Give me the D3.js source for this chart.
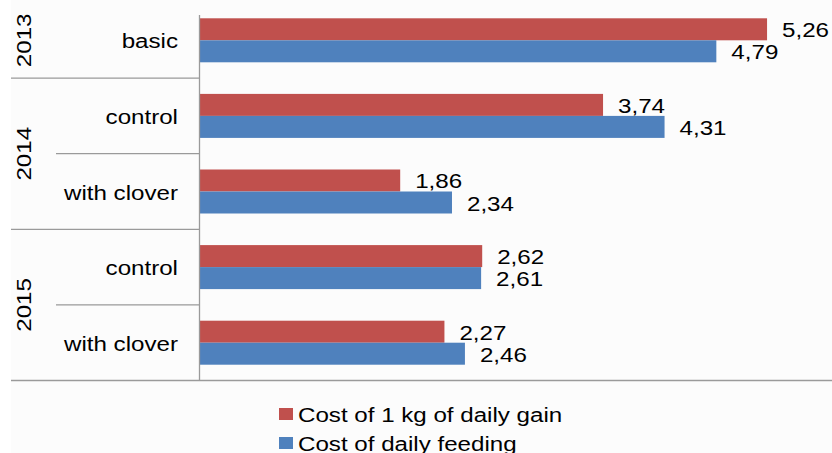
<!DOCTYPE html>
<html>
<head>
<meta charset="utf-8">
<script src="https://cdn.jsdelivr.net/npm/d3@7"></script>
<style>
  body { margin: 0; background: #fff; }
  svg { display: block; font-family: "Liberation Sans", Arial, sans-serif; }
</style>
</head>
<body>
<div id="chart"></div>
<script>
// Data
const categories = ['basic', 'control', 'with clover', 'control', 'with clover'];
const years = ['2013', '2014', '2014', '2015', '2015'];
const gainCost = [5.26, 3.74, 1.86, 2.62, 2.27];
const feedingCost = [4.79, 4.31, 2.34, 2.61, 2.46];
const seriesNames = ['Cost of 1 kg of daily gain', 'Cost of daily feeding'];
const seriesColors = ['#C0504D', '#4F81BD'];

const width = 832, height = 453;
const plotLeft = 199.5, plotTop = 2.5, plotBottom = 380.5;
const stretch = 1.15; // the source font is wider than Arial

const rows = categories.map((c, i) => ({
  key: i, cat: c, year: years[i], values: [gainCost[i], feedingCost[i]]
}));

const fmt = d3.formatLocale({ decimal: ',', thousands: ' ', grouping: [3], currency: ['', ''] }).format('.2f');

const svg = d3.select('#chart').append('svg')
  .attr('width', width)
  .attr('height', height);

svg.append('rect')
  .attr('x', 11).attr('y', 0)
  .attr('width', width - 11).attr('height', height)
  .attr('fill', '#fcfcfc');

const x = d3.scaleLinear().domain([0, 6]).range([plotLeft, plotLeft + 6 * 107.9]);
const y = d3.scaleBand().domain(rows.map(d => d.key)).range([plotTop, plotBottom]);
const y1 = d3.scaleBand().domain([0, 1]).range([0, y.bandwidth()]).paddingOuter(0.718);

// helper for horizontally stretched text
function stretchedText(g, tx, ty, txt, anchor, rotate) {
  const t = g.append('g')
    .attr('transform', `translate(${tx},${ty})` + (rotate ? ` rotate(${rotate})` : '') + ` scale(${stretch},1)`);
  t.append('text')
    .attr('text-anchor', anchor)
    .style('font-size', '21px')
    .attr('fill', '#000')
    .text(txt);
  return t;
}

// bars
const groups = svg.append('g').selectAll('g.row')
  .data(rows)
  .join('g')
  .attr('class', 'row')
  .attr('transform', d => `translate(0,${y(d.key)})`);

groups.selectAll('rect')
  .data(d => d.values.map((v, j) => ({ v, j })))
  .join('rect')
  .attr('x', x(0))
  .attr('y', d => y1(d.j))
  .attr('width', d => x(d.v) - x(0))
  .attr('height', y1.bandwidth())
  .attr('fill', d => seriesColors[d.j]);

// value labels
groups.each(function (row) {
  const g = d3.select(this);
  row.values.forEach((v, j) => {
    stretchedText(g, x(v) + 15, y1(j) + y1.bandwidth() / 2 + 8, fmt(v), 'start');
  });
});

// category axis lines
const axisG = svg.append('g').attr('stroke', '#9a9a9a').attr('stroke-width', 1.3);
axisG.append('line')
  .attr('x1', plotLeft).attr('x2', plotLeft)
  .attr('y1', 15).attr('y2', plotBottom);
axisG.append('line')
  .attr('x1', 11).attr('x2', width)
  .attr('y1', plotBottom).attr('y2', plotBottom);
rows.slice(1).forEach((d, i) => {
  const newYear = d.year !== rows[i].year;
  axisG.append('line')
    .attr('x1', newYear ? 11 : 56).attr('x2', plotLeft)
    .attr('y1', y(d.key)).attr('y2', y(d.key));
});

// category labels
rows.forEach(d => {
  stretchedText(svg, 178, y(d.key) + y.bandwidth() / 2 + 8, d.cat, 'end');
});

// year labels, rotated
const yearGroups = d3.groups(rows, d => d.year);
yearGroups.forEach(([yr, rs]) => {
  const y0 = y(rs[0].key);
  const yEnd = y(rs[rs.length - 1].key) + y.bandwidth();
  stretchedText(svg, 31, (y0 + yEnd) / 2, yr, 'middle', -90);
});

// legend
const legend = svg.append('g').attr('transform', 'translate(279,408)');
seriesNames.forEach((name, j) => {
  const item = legend.append('g').attr('transform', `translate(0,${j * 29})`);
  item.append('rect')
    .attr('width', 14).attr('height', 12)
    .attr('fill', seriesColors[j]);
  stretchedText(item, 19, 14, name, 'start');
});
</script>
</body>
</html>
